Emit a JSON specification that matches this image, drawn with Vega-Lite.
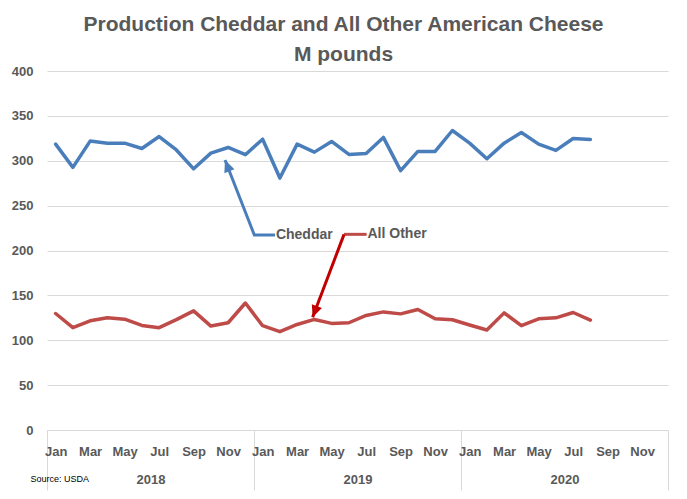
{
  "$schema": "https://vega.github.io/schema/vega-lite/v6.json",
  "width": 621,
  "height": 359,
  "autosize": {"type": "none"},
  "padding": {"left": 47, "top": 71, "right": 19, "bottom": 69},
  "background": "white",
  "config": {
    "view": {"stroke": null},
    "font": "Liberation Sans"
  },
  "title": {
    "text": ["Production Cheddar and All Other American Cheese", "M pounds"],
    "fontSize": 21,
    "fontWeight": "bold",
    "color": "#595959",
    "lineHeight": 30,
    "anchor": "middle",
    "dx": -14,
    "offset": 0
  },
  "datasets": {
    "production": [
      {"month": 1, "series": "Cheddar", "value": 318.5},
      {"month": 2, "series": "Cheddar", "value": 292.6},
      {"month": 3, "series": "Cheddar", "value": 321.9},
      {"month": 4, "series": "Cheddar", "value": 319.6},
      {"month": 5, "series": "Cheddar", "value": 319.6},
      {"month": 6, "series": "Cheddar", "value": 313.7},
      {"month": 7, "series": "Cheddar", "value": 327.0},
      {"month": 8, "series": "Cheddar", "value": 312.0},
      {"month": 9, "series": "Cheddar", "value": 291.0},
      {"month": 10, "series": "Cheddar", "value": 308.5},
      {"month": 11, "series": "Cheddar", "value": 314.8},
      {"month": 12, "series": "Cheddar", "value": 306.7},
      {"month": 13, "series": "Cheddar", "value": 324.0},
      {"month": 14, "series": "Cheddar", "value": 280.7},
      {"month": 15, "series": "Cheddar", "value": 318.5},
      {"month": 16, "series": "Cheddar", "value": 309.6},
      {"month": 17, "series": "Cheddar", "value": 321.5},
      {"month": 18, "series": "Cheddar", "value": 307.0},
      {"month": 19, "series": "Cheddar", "value": 308.0},
      {"month": 20, "series": "Cheddar", "value": 326.0},
      {"month": 21, "series": "Cheddar", "value": 289.0},
      {"month": 22, "series": "Cheddar", "value": 310.4},
      {"month": 23, "series": "Cheddar", "value": 310.4},
      {"month": 24, "series": "Cheddar", "value": 333.7},
      {"month": 25, "series": "Cheddar", "value": 319.6},
      {"month": 26, "series": "Cheddar", "value": 302.2},
      {"month": 27, "series": "Cheddar", "value": 319.6},
      {"month": 28, "series": "Cheddar", "value": 331.5},
      {"month": 29, "series": "Cheddar", "value": 318.5},
      {"month": 30, "series": "Cheddar", "value": 311.5},
      {"month": 31, "series": "Cheddar", "value": 324.8},
      {"month": 32, "series": "Cheddar", "value": 323.7},
      {"month": 1, "series": "All Other", "value": 129.8},
      {"month": 2, "series": "All Other", "value": 114.0},
      {"month": 3, "series": "All Other", "value": 121.7},
      {"month": 4, "series": "All Other", "value": 125.0},
      {"month": 5, "series": "All Other", "value": 123.5},
      {"month": 6, "series": "All Other", "value": 116.5},
      {"month": 7, "series": "All Other", "value": 114.0},
      {"month": 8, "series": "All Other", "value": 123.0},
      {"month": 9, "series": "All Other", "value": 132.7},
      {"month": 10, "series": "All Other", "value": 115.8},
      {"month": 11, "series": "All Other", "value": 119.5},
      {"month": 12, "series": "All Other", "value": 141.5},
      {"month": 13, "series": "All Other", "value": 116.2},
      {"month": 14, "series": "All Other", "value": 109.6},
      {"month": 15, "series": "All Other", "value": 117.6},
      {"month": 16, "series": "All Other", "value": 123.2},
      {"month": 17, "series": "All Other", "value": 118.8},
      {"month": 18, "series": "All Other", "value": 119.5},
      {"month": 19, "series": "All Other", "value": 127.6},
      {"month": 20, "series": "All Other", "value": 131.6},
      {"month": 21, "series": "All Other", "value": 129.4},
      {"month": 22, "series": "All Other", "value": 134.2},
      {"month": 23, "series": "All Other", "value": 123.9},
      {"month": 24, "series": "All Other", "value": 122.8},
      {"month": 25, "series": "All Other", "value": 117.0},
      {"month": 26, "series": "All Other", "value": 111.4},
      {"month": 27, "series": "All Other", "value": 130.5},
      {"month": 28, "series": "All Other", "value": 116.2},
      {"month": 29, "series": "All Other", "value": 123.9},
      {"month": 30, "series": "All Other", "value": 125.0},
      {"month": 31, "series": "All Other", "value": 130.9},
      {"month": 32, "series": "All Other", "value": 122.4}
    ],
    "callouts": [
      {"segment": "cheddar", "order": 1, "month": 13.72, "value": 217.3},
      {"segment": "cheddar", "order": 2, "month": 12.52, "value": 217.3},
      {"segment": "cheddar", "order": 3, "month": 10.82, "value": 300.8},
      {"segment": "otherFlat", "order": 1, "month": 19.03, "value": 218.0},
      {"segment": "otherFlat", "order": 2, "month": 17.72, "value": 218.0},
      {"segment": "otherDiag", "order": 1, "month": 17.72, "value": 218.0},
      {"segment": "otherDiag", "order": 2, "month": 15.9, "value": 125.6}
    ],
    "heads": [
      {"segment": "cheddar", "month": 10.82, "value": 300.8, "angle": 338.7},
      {"segment": "otherDiag", "month": 15.9, "value": 125.6, "angle": 200.6}
    ],
    "labels": [
      {"label": "Cheddar", "month": 13.77, "value": 217.3},
      {"label": "All Other", "month": 19.08, "value": 218.0}
    ],
    "years": [
      {"month": 6.5, "year": "2018"},
      {"month": 18.5, "year": "2019"},
      {"month": 30.5, "year": "2020"}
    ]
  },
  "layer": [
    {
      "layer": [
        {
          "data": {"name": "production"},
          "mark": {"type": "line", "strokeWidth": 3.5, "strokeJoin": "round", "strokeCap": "round"},
          "encoding": {
            "x": {
              "field": "month",
              "type": "quantitative",
              "scale": {"domain": [0.5, 36.5], "nice": false, "zero": false},
              "axis": {
                "title": "Source: USDA",
                "titleFontSize": 9,
                "titleFontWeight": "normal",
                "titleColor": "black",
                "titleAlign": "left",
                "titleBaseline": "middle",
                "titleAnchor": "start",
                "titleX": -17,
                "titleY": 48,
                "values": [0.5, 1, 3, 5, 7, 9, 11, 12.5, 13, 15, 17, 19, 21, 23, 24.5, 25, 27, 29, 31, 33, 35, 36.5],
                "tickCount": 100,
                "labelExpr": "datum.value % 1 == 0 ? ['Jan','Feb','Mar','Apr','May','Jun','Jul','Aug','Sep','Oct','Nov','Dec'][(datum.value - 1) % 12] : ''",
                "labelOverlap": false,
                "labelFlush": false,
                "labelBound": false,
                "labelFontSize": 13,
                "labelFontWeight": "bold",
                "labelColor": "#595959",
                "labelPadding": -45,
                "tickSize": 60,
                "tickColor": "#d9d9d9",
                "tickWidth": 1,
                "tickOpacity": {"condition": {"test": "datum.value % 12 == 0.5", "value": 1}, "value": 0},
                "domainColor": "#d9d9d9",
                "grid": false
              }
            },
            "y": {
              "field": "value",
              "type": "quantitative",
              "scale": {"domain": [0, 400], "nice": false},
              "axis": {
                "title": null,
                "values": [0, 50, 100, 150, 200, 250, 300, 350, 400],
                "tickCount": 100,
                "labelFontSize": 13,
                "labelFontWeight": "bold",
                "labelColor": "#595959",
                "labelPadding": 14,
                "ticks": false,
                "domain": false,
                "gridColor": "#d9d9d9",
                "gridWidth": 1
              }
            },
            "color": {
              "field": "series",
              "type": "nominal",
              "scale": {"domain": ["Cheddar", "All Other"], "range": ["#4a7ebb", "#be4b48"]},
              "legend": null
            }
          }
        },
        {
          "data": {"name": "callouts"},
          "mark": {"type": "line", "strokeWidth": 3, "strokeJoin": "miter"},
          "encoding": {
            "x": {"field": "month", "type": "quantitative"},
            "y": {"field": "value", "type": "quantitative"},
            "detail": {"field": "segment"},
            "order": {"field": "order"},
            "color": {
              "field": "segment",
              "type": "nominal",
              "scale": {"domain": ["cheddar", "otherFlat", "otherDiag"], "range": ["#4a7ebb", "#be4b48", "#c00000"]},
              "legend": null
            }
          }
        },
        {
          "data": {"name": "heads"},
          "mark": {"type": "point", "shape": "M0,0L-0.45,1L0.45,1Z", "filled": true, "size": 576, "opacity": 1},
          "encoding": {
            "x": {"field": "month", "type": "quantitative"},
            "y": {"field": "value", "type": "quantitative"},
            "angle": {"field": "angle", "type": "quantitative", "scale": null},
            "color": {
              "field": "segment",
              "type": "nominal",
              "scale": {"domain": ["cheddar", "otherDiag"], "range": ["#4a7ebb", "#c00000"]},
              "legend": null
            }
          }
        },
        {
          "data": {"name": "labels"},
          "mark": {"type": "text", "align": "left", "baseline": "middle", "fontSize": 14, "fontWeight": "bold", "color": "#595959"},
          "encoding": {
            "x": {"field": "month", "type": "quantitative"},
            "y": {"field": "value", "type": "quantitative"},
            "text": {"field": "label"}
          }
        }
      ],
      "resolve": {"scale": {"color": "independent"}}
    },
    {
      "data": {"name": "years"},
      "mark": {"type": "text", "opacity": 0, "text": ""},
      "encoding": {
        "x": {
          "field": "month",
          "type": "quantitative",
          "scale": {"domain": [0.5, 36.5], "nice": false, "zero": false},
          "axis": {
            "orient": "bottom",
            "title": null,
            "values": [6.5, 18.5, 30.5],
            "tickCount": 100,
            "labelExpr": "datum.value == 6.5 ? '2018' : datum.value == 18.5 ? '2019' : '2020'",
            "labelOverlap": false,
            "labelFlush": false,
            "labelBound": false,
            "labelFontSize": 13,
            "labelFontWeight": "bold",
            "labelColor": "#595959",
            "labelPadding": 0,
            "ticks": false,
            "domain": false,
            "grid": false,
            "offset": 43
          }
        }
      }
    }
  ],
  "resolve": {"scale": {"x": "independent"}, "axis": {"x": "independent"}}
}
